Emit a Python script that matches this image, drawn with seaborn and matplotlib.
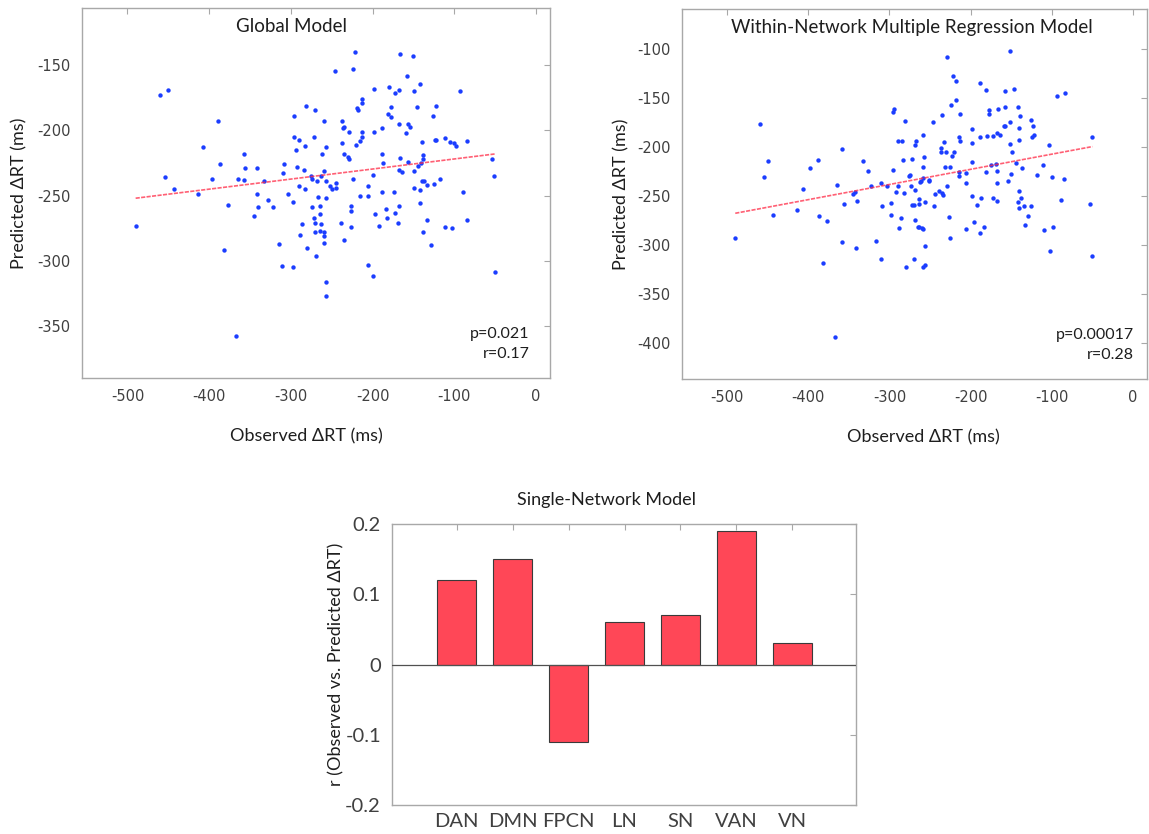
import numpy as np
import pandas as pd
import matplotlib
matplotlib.use("Agg")
import matplotlib.pyplot as plt
import seaborn as sns

sns.set_style("white")
plt.rcParams["font.family"] = ["Lato", "DejaVu Sans"]
plt.rcParams["axes.unicode_minus"] = False

# Global model: observed vs predicted dRT (ms)
glob_obs = [-460, -450, -389, -407, -358, -387, -356, -342, -309, -310, -454, -397, -365, -358, -333,
            -443, -290, -296, -296, -290, -294, -292,
            -222, -166, -151, -246, -224, -158, -142, -198, -180, -168, -173, -150, -93, -213, -213,
            -219, -218, -281, -270, -177, -146, -122, -181, -178, -126, -259, -237, -235, -236, -229,
            -213, -198, -189, -168, -157, -154, -159, -272, -283, -213, -215, -237, -220, -140, -124,
            -123, -112, -105, -100, -98, -85, -257, -262, -235, -230, -229, -188, -167, -139, -139,
            -187, -157, -141, -144, -54, -168, -164, -150, -199, -52, -284, -260, -276, -274, -268,
            -263, -257, -252, -245, -245, -224, -206, -140, -137, -125, -118, -133, -149, -283, -250,
            -414, -341, -303, -377, -340, -322, -328, -298, -490, -345, -315, -382, -311, -298, -367, -289,
            -267, -257, -215, -206, -188, -174, -142, -89, -274, -264, -227, -227, -168, -142, -184,
            -197, -173, -265, -272, -182, -134, -85, -286, -270, -263, -239, -226, -192, -169, -111,
            -103, -270, -265, -259, -259, -138, -260, -235, -129, -280, -269, -206, -199, -257, -257, -50]
glob_pred = [-173, -169, -193, -213, -218, -226, -229, -229, -226, -233, -236, -237, -237, -238, -239,
             -245, -243, -189, -205, -207, -215, -228,
             -140, -141, -143, -154, -153, -158, -164, -168, -167, -169, -171, -170, -170, -176, -179,
             -183, -184, -181, -184, -182, -182, -181, -187, -190, -189, -193, -193, -197, -198, -201,
             -201, -201, -198, -195, -195, -197, -202, -205, -212, -205, -208, -210, -211, -209, -207,
             -207, -206, -209, -210, -212, -208, -213, -218, -218, -220, -222, -218, -221, -219, -222,
             -225, -224, -225, -227, -222, -230, -232, -231, -234, -235, -230, -231, -235, -237, -239,
             -235, -239, -243, -240, -244, -237, -243, -239, -239, -241, -237, -242, -244, -245, -245,
             -249, -249, -249, -257, -259, -259, -253, -255, -273, -266, -287, -292, -304, -305, -358, -280,
             -251, -252, -250, -250, -247, -247, -246, -247, -259, -258, -258, -262, -258, -256, -260,
             -264, -263, -264, -267, -267, -269, -269, -272, -271, -272, -271, -274, -273, -271, -274,
             -275, -278, -277, -278, -281, -278, -286, -284, -288, -290, -296, -303, -312, -316, -327, -309]

# Within-network multiple regression model
wn_obs = [-460, -450, -454, -398, -388, -358, -407, -365, -333, -327, -323,
          -229, -151, -222, -218, -189, -181, -157, -146, -93, -84, -218, -224, -235, -213, -295,
          -296, -281, -246, -177, -177, -166, -158, -142, -139, -151, -126, -123, -159, -158, -140,
          -198, -290, -284, -267, -269, -259, -236, -233, -214, -213, -198, -188, -180, -173, -167,
          -164, -140, -151, -124, -122, -51, -104, -283, -272, -257, -237, -230, -223, -220, -259,
          -231, -226, -149, -198, -175, -169, -168, -296, -275, -276, -259, -251, -251, -262, -261,
          -214, -214, -206, -181, -144, -137, -111, -118, -100, -85, -150, -154, -168, -206, -229,
          -289, -274, -268, -303, -311,
          -292, -282, -244, -239, -235, -234, -198, -187, -173, -168, -140, -142, -138, -140, -134,
          -125, -88, -53, -309, -298, -298, -286, -288, -272, -270, -264, -264, -256, -269, -265,
          -263, -260, -259, -256, -245, -227, -226, -206, -196, -192, -184, -188, -129, -133, -110,
          -98, -102, -50, -311, -280, -270, -259, -256,
          -490, -443, -414, -387, -377, -382, -367, -358, -356, -345, -342, -340, -341, -316]
wn_pred = [-177, -215, -231, -222, -214, -202, -243, -239, -215, -225, -240,
           -109, -103, -128, -133, -135, -142, -143, -141, -148, -145, -152, -158, -168, -167, -162,
           -165, -174, -175, -163, -167, -162, -160, -160, -169, -175, -173, -179, -179, -179, -181,
           -182, -194, -194, -194, -198, -188, -201, -195, -190, -194, -196, -190, -189, -189, -186,
           -188, -193, -197, -190, -188, -190, -198, -214, -213, -211, -206, -206, -210, -206, -221,
           -221, -221, -206, -216, -219, -218, -225, -224, -229, -230, -232, -234, -235, -236, -235,
           -226, -230, -227, -226, -217, -222, -219, -229, -231, -233, -228, -235, -237, -237, -240,
           -240, -240, -244, -240, -237,
           -246, -247, -248, -245, -247, -249, -250, -252, -252, -255, -245, -257, -252, -263, -261,
           -261, -254, -259, -261, -258, -270, -273, -283, -260, -260, -253, -259, -256, -275, -282,
           -282, -283, -284, -301, -261, -272, -293, -284, -277, -260, -282, -288, -271, -280, -285,
           -282, -306, -312, -315, -323, -315, -323, -321,
           -293, -270, -265, -271, -276, -319, -394, -297, -259, -248, -246, -255, -303, -296]

# least-squares lines as drawn in the figure (endpoints)
fit_x = [-490, -50]
glob_fit_y = [-252, -218]
wn_fit_y = [-268, -200]

# Single-network model
networks = ["DAN", "DMN", "FPCN", "LN", "SN", "VAN", "VN"]
net_r = [0.12, 0.15, -0.11, 0.06, 0.07, 0.19, 0.03]

glob = pd.DataFrame({"obs": glob_obs, "pred": glob_pred})
wn = pd.DataFrame({"obs": wn_obs, "pred": wn_pred})
bars = pd.DataFrame({"net": networks, "r": net_r})

W, H = 1149, 834
fig = plt.figure(figsize=(W / 100, H / 100), dpi=100)

def rect(x0, y0, x1, y1):
    return [x0 / W, 1 - y1 / H, (x1 - x0) / W, (y1 - y0) / H]

spine_c = "#a8a8a8"
tick_c = "#404040"
txt_c = "#1e1e1e"

def style(ax, fs, fam="DejaVu Sans"):
    for s in ax.spines.values():
        s.set_color(spine_c)
        s.set_linewidth(1.0)
    ax.tick_params(direction="in", length=4, width=0.8, color=spine_c, labelcolor=tick_c,
                   labelsize=fs, top=True, right=True, pad=8)
    for lab in ax.get_xticklabels() + ax.get_yticklabels():
        lab.set_family(fam)

def scatter_panel(ax, df, fit_y, title, title_x, p_txt, r_txt, ylim, yticks, ptx):
    sns.scatterplot(data=df, x="obs", y="pred", ax=ax, color="#1b3dff", s=10,
                    linewidth=0, legend=False)
    ax.plot(fit_x, fit_y, color="#ff2a45", lw=1.2, alpha=0.75, ls=(0, (2.5, 0.8)))
    ax.set_xlim(-556, 17)
    ax.set_ylim(*ylim)
    ax.set_xticks([-500, -400, -300, -200, -100, 0])
    ax.set_yticks(yticks)
    style(ax, 10.5)
    ax.set_xlabel("Observed ΔRT (ms)", fontsize=13, color=txt_c)
    ax.set_ylabel("Predicted ΔRT (ms)", fontsize=13, color=txt_c)
    ax.text(title_x, 0.951, title, transform=ax.transAxes, ha="center", va="center",
            fontsize=13.5, color=txt_c)
    ax.text(ptx, 0.118, p_txt, transform=ax.transAxes, ha="right", va="center",
            fontsize=11.5, color=txt_c)
    ax.text(ptx, 0.066, r_txt, transform=ax.transAxes, ha="right", va="center",
            fontsize=11.5, color=txt_c)

ax1 = fig.add_axes(rect(81.7, 8, 550, 378))
scatter_panel(ax1, glob, glob_fit_y, "Global Model", 0.447, "p=0.021", "r=0.17",
              (-390, -106), [-350, -300, -250, -200, -150], 0.957)
ax1.xaxis.set_label_coords(0.48, -0.135)
ax1.yaxis.set_label_coords(-0.115, 0.5)

ax2 = fig.add_axes(rect(681.7, 9.3, 1146.7, 379))
scatter_panel(ax2, wn, wn_fit_y, "Within-Network Multiple Regression Model", 0.495,
              "p=0.00017", "r=0.28", (-437, -60), [-400, -350, -300, -250, -200, -150, -100], 0.973)
ax2.xaxis.set_label_coords(0.52, -0.135)
ax2.yaxis.set_label_coords(-0.112, 0.5)

ax3 = fig.add_axes(rect(392, 524, 856, 805))
sns.barplot(data=bars, x="net", y="r", ax=ax3, color="#ff4757", saturation=1,
            width=0.7, edgecolor="#3a3a3a", linewidth=0.8, errorbar=None)
ax3.axhline(0, color="#505050", lw=0.9, zorder=3)
ax3.set_xlim(-1.16, 7.14)
ax3.set_ylim(-0.2, 0.2)
ax3.set_yticks([-0.2, -0.1, 0, 0.1, 0.2])
ax3.set_yticklabels(["-0.2", "-0.1", "0", "0.1", "0.2"])
style(ax3, 14.5, fam="Lato")
ax3.tick_params(axis="x", pad=6)
ax3.set_xlabel("")
ax3.set_ylabel("r (Observed vs. Predicted ΔRT)", fontsize=13, color=txt_c)
ax3.yaxis.set_label_coords(-0.103, 0.5)
ax3.set_title("Single-Network Model", fontsize=13, color=txt_c, pad=14, x=0.463)

fig.savefig("out.png", dpi=100)
